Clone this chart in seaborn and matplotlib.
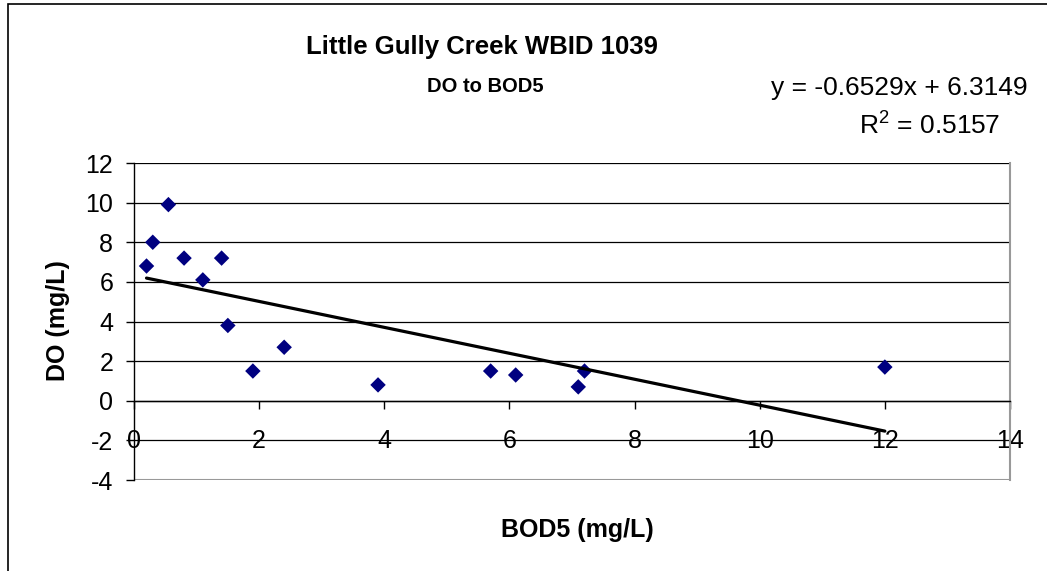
import matplotlib
matplotlib.use("Agg")
import matplotlib.pyplot as plt
from matplotlib.patches import Rectangle
import numpy as np
import pandas as pd
import seaborn as sns

# values
bod5 = [0.2, 0.3, 0.55, 0.8, 1.1, 1.4, 1.5, 1.9, 2.4, 3.9, 5.7, 6.1, 7.1, 7.2, 12.0]
do = [6.8, 8.0, 9.9, 7.2, 6.1, 7.2, 3.8, 1.5, 2.7, 0.8, 1.5, 1.3, 0.7, 1.5, 1.7]
x_ticks = [0, 2, 4, 6, 8, 10, 12, 14]
y_ticks = [-4, -2, 0, 2, 4, 6, 8, 10, 12]
title = "Little Gully Creek WBID 1039"
subtitle = "DO to BOD5"
eq_text = "y = -0.6529x + 6.3149"
r2_text = "R$^2$ = 0.5157"

df = pd.DataFrame({"BOD5": bod5, "DO": do})

sns.set_style("white")
plt.rcParams["font.family"] = ["Liberation Sans", "DejaVu Sans"]
plt.rcParams["axes.unicode_minus"] = False
plt.rcParams["text.color"] = "black"
plt.rcParams["xtick.color"] = "black"
plt.rcParams["ytick.color"] = "black"
plt.rcParams["mathtext.fontset"] = "custom"
plt.rcParams["mathtext.rm"] = "Liberation Sans"

W, H = 1047, 571
fig = plt.figure(figsize=(W / 100, H / 100), dpi=100)
ax = fig.add_axes([134 / W, 1 - 480 / H, (1010 - 134) / W, (480 - 163) / H])

# outer chart border (cropped on the right and bottom)
fig.patches.append(Rectangle((8 / W, -0.1), 1.2, 1 - 4 / H + 0.1,
                             transform=fig.transFigure, fill=False,
                             edgecolor="black", linewidth=1.2))

for yv in y_ticks[1:]:
    ax.axhline(yv, color="black", linewidth=0.9, zorder=1)
ax.axhline(-4, color="#999999", linewidth=1.5, zorder=1)

sns.regplot(data=df, x="BOD5", y="DO", ci=None, marker="D", ax=ax,
            scatter_kws={"color": "#000080", "s": 62, "alpha": 1,
                         "edgecolors": "none", "zorder": 3},
            line_kws={"color": "black", "linewidth": 2.3, "zorder": 4})

ax.set_xlim(0, 14)
ax.set_ylim(-4, 12)
ax.set_xticks(x_ticks)
ax.set_yticks(y_ticks)

ax.spines["bottom"].set_position(("data", 0))
ax.spines["bottom"].set_color("black")
ax.spines["bottom"].set_linewidth(1.0)
ax.spines["left"].set_color("black")
ax.spines["left"].set_linewidth(1.0)
ax.spines["top"].set_visible(False)
ax.spines["right"].set_color("#999999")
ax.spines["right"].set_linewidth(1.5)

ax.tick_params(axis="x", direction="out", length=6, width=1, pad=14,
               labelsize=18, bottom=True)
ax.tick_params(axis="y", direction="out", length=6, width=1, pad=9,
               labelsize=18, left=True)

ax.set_xlabel("")
ax.set_ylabel("")
fig.text(577 / W, 1 - 530 / H, "BOD5 (mg/L)", ha="center", va="center",
         fontsize=18, fontweight="bold")
fig.text(58 / W, 1 - 321 / H, "DO (mg/L)", ha="center", va="center",
         rotation=90, fontsize=18, fontweight="bold")

fig.text(482 / W, 1 - 47 / H, title, ha="center", va="center",
         fontsize=18.5, fontweight="bold")
fig.text(485 / W, 1 - 87 / H, subtitle, ha="center", va="center",
         fontsize=14.5, fontweight="bold")
fig.text(899 / W, 1 - 88 / H, eq_text, ha="center", va="center", fontsize=19)
fig.text(930 / W, 1 - 125 / H, r2_text, ha="center", va="center", fontsize=19)

fig.savefig("out.png", dpi=100)
